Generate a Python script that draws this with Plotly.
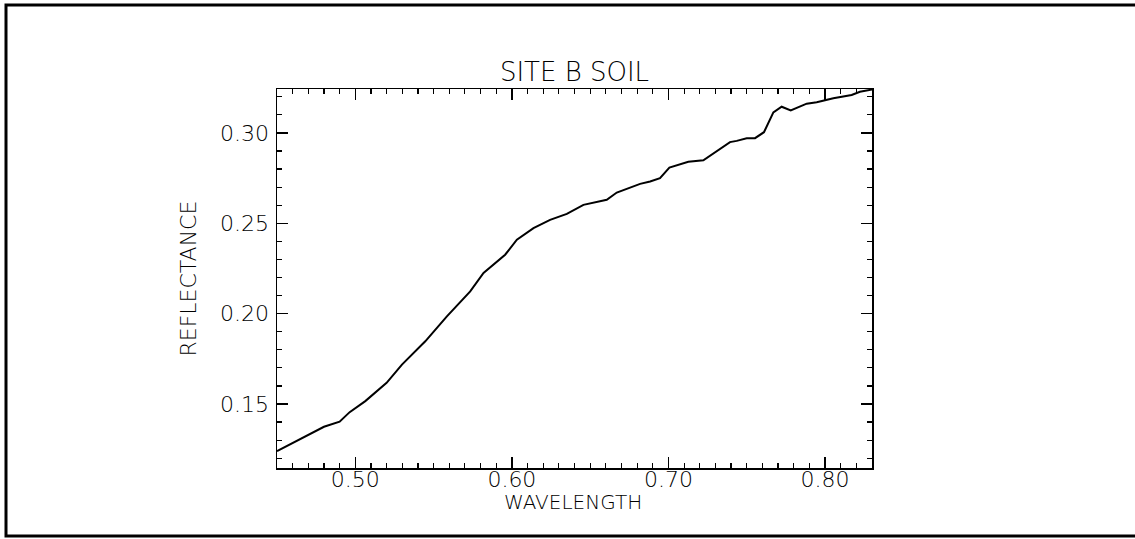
import plotly.graph_objects as go

wavelength = [0.450, 0.460, 0.470, 0.480, 0.490, 0.4964, 0.5064, 0.520, 0.5298, 0.5447,
              0.5585, 0.5734, 0.5819, 0.5957, 0.6032, 0.6138, 0.6244, 0.6351, 0.6457,
              0.6606, 0.667, 0.6819, 0.6883, 0.6946, 0.7006, 0.7063, 0.7127, 0.7223,
              0.7308, 0.7393, 0.7436, 0.750, 0.7553, 0.761, 0.767, 0.7723, 0.7781,
              0.7883, 0.7947, 0.8053, 0.817, 0.8223, 0.830]
reflectance = [0.1239, 0.1285, 0.1330, 0.1374, 0.1402, 0.1455, 0.1516, 0.1617, 0.1718, 0.1847,
               0.1985, 0.2123, 0.2225, 0.2326, 0.2409, 0.2473, 0.2519, 0.2552, 0.2602,
               0.2630, 0.2670, 0.2718, 0.2731, 0.2750, 0.2808, 0.2823, 0.2840, 0.2849,
               0.2901, 0.2949, 0.2956, 0.2971, 0.2971, 0.3004, 0.3114, 0.3145, 0.3125,
               0.3162, 0.3170, 0.3192, 0.3210, 0.3228, 0.3240]

x_ticks = [0.50, 0.60, 0.70, 0.80]
x_tick_labels = ["0.50", "0.60", "0.70", "0.80"]
y_ticks = [0.15, 0.20, 0.25, 0.30]
y_tick_labels = ["0.15", "0.20", "0.25", "0.30"]

FONT = "DejaVu Sans"
W, H = 1135, 539
L, R, T, B = 277, 872, 89, 468
pw, ph = R - L, B - T


def px(xp):
    return (xp - L) / pw


def py(yp):
    return (B - yp) / ph


fig = go.Figure()
fig.add_trace(go.Scatter(x=wavelength, y=reflectance, mode="lines",
                         line=dict(color="black", width=2), showlegend=False,
                         hoverinfo="skip"))

axis_common = dict(showgrid=False, zeroline=False, showline=True, linecolor="black",
                   linewidth=1.5, mirror="ticks", ticks="inside", ticklen=11,
                   tickwidth=1.5, tickcolor="black",
                   tickfont=dict(family=FONT, size=22, color="black", weight=300))

fig.update_xaxes(range=[0.450, 0.830], tickvals=x_ticks, ticktext=x_tick_labels,
                 minor=dict(ticks="inside", dtick=0.01, tick0=0.45, ticklen=5,
                            tickwidth=1.2, tickcolor="black"),
                 ticklabelstandoff=-9,
                 **axis_common)
fig.update_yaxes(range=[0.1146, 0.3243], tickvals=y_ticks, ticktext=y_tick_labels,
                 minor=dict(ticks="inside", dtick=0.01, tick0=0.11, ticklen=5,
                            tickwidth=1.2, tickcolor="black"),
                 ticklabelstandoff=2,
                 **axis_common)

frame_path = "M {xr},{yt} L {xl},{yt} L {xl},{yb} L {xr},{yb}".format(
    xr=px(1140), xl=px(6), yt=py(5), yb=py(536))

fig.update_layout(
    width=W, height=H,
    margin=dict(l=L, r=W - R, t=T, b=H - B),
    paper_bgcolor="white", plot_bgcolor="white",
    title=dict(text="SITE B SOIL", x=0.5 * (L + R) / W, xanchor="center",
               y=1 - 72 / H, yanchor="middle", yref="container",
               font=dict(family=FONT, size=26, color="black", weight=300)),
    annotations=[
        dict(text="REFLECTANCE", x=px(188), y=0.5, xref="paper", yref="paper",
             showarrow=False, textangle=-90, xanchor="center", yanchor="middle",
             font=dict(family=FONT, size=22, color="black", weight=300)),
        dict(text="WAVELENGTH", x=px(573), y=py(502), xref="paper", yref="paper",
             showarrow=False, xanchor="center", yanchor="middle",
             font=dict(family=FONT, size=20, color="black", weight=300)),
    ],
    shapes=[
        dict(type="path", xref="paper", yref="paper", path=frame_path,
             fillcolor="rgba(0,0,0,0)", line=dict(color="black", width=3)),
    ],
)

fig.write_html("out.html",
               config={"displayModeBar": False, "staticPlot": True},
               post_script="document.body.style.margin='0';document.body.style.overflow='hidden';")
